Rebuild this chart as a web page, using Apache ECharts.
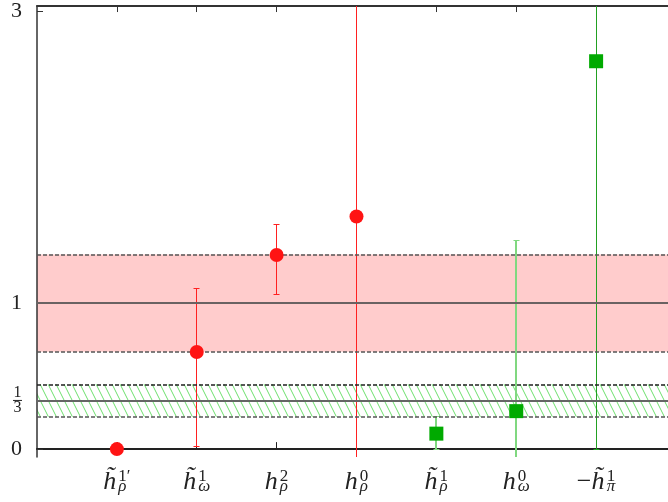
<!DOCTYPE html>
<html><head><meta charset="utf-8">
<script src="https://cdn.jsdelivr.net/npm/echarts@6/dist/echarts.min.js"></script>
<style>html,body{margin:0;padding:0;background:#fff}#c{width:668px;height:502px}</style>
</head><body><div id="c"></div>
<script>
// ---- data ----
const xPositions = [1, 2, 3, 4, 5, 6, 7];
const categories = [
  '{sp| }{p|1′}\n{h|h̃}\n{sp| }{b|ρ}',
  '{sp| }{p|1}\n{h|h̃}\n{sp| }{b|ω}',
  '{sp| }{p|2}\n{h|h}\n{sp| }{b|ρ}',
  '{sp| }{p|0}\n{h|h}\n{sp| }{b|ρ}',
  '{sp| }{p|1}\n{h|h̃}\n{sp| }{b|ρ}',
  '{sp| }{p|0}\n{h|h}\n{sp| }{b|ω}',
  '{sp2| }{p|1}\n{m|−}{h|h̃}\n{sp2| }{b|π}'
];
const redX = [1, 2, 3, 4];
const redValues = [0, 0.665, 1.329, 1.593];
const redLow = [null, 0.015, 1.061, -1];
const redHigh = [null, 1.10, 1.539, 5];
const greenX = [5, 6, 7];
const greenValues = [0.106, 0.26, 2.656];
const greenLow = [0.0, -1, 0.0];
const greenHigh = [0.22, 1.43, 5];
const yTickValues = [0, 1/3, 1, 3];
const yTickLabels = ['0', '{n|1}\n{bar| }\n{d|3}', '1', '3'];
const redBand = [2/3, 1, 4/3];
const greenBand = [2/9, 1/3, 4/9];

// ---- styles (separate) ----
const greenBarColors = ['#80d880', '#80d880', '#22a022'];
const greenBarWidths = [2, 2, 1];

const serif = 'Liberation Serif';

const pc = document.createElement('canvas');
pc.width = 8; pc.height = 16;
const pctx = pc.getContext('2d');
pctx.strokeStyle = '#6ee06e'; pctx.lineWidth = 1;
for (const dx of [-8, 0, 8]) { pctx.beginPath(); pctx.moveTo(dx, 0); pctx.lineTo(dx + 8, 16); pctx.stroke(); }

function snap(v, w) { return (w % 2 === 1) ? Math.round(v - 0.5) + 0.5 : Math.round(v); }

function errRender(colors, widths) {
  return function (params, api) {
    const i = api.value(3);
    const x = api.value(0), lo = api.value(1), hi = api.value(2);
    const a = api.coord([x, lo]), b = api.coord([x, hi]);
    const c = Array.isArray(colors) ? colors[i] : colors;
    const w = Array.isArray(widths) ? widths[i] : widths;
    const cap = 3;
    const px = snap(a[0], w), cx = snap(a[0], 1);
    const ya = snap(a[1], 1), yb = snap(b[1], 1);
    return { type: 'group', children: [
      { type: 'line', shape: { x1: px, y1: a[1], x2: px, y2: b[1] }, style: { stroke: c, lineWidth: w } },
      { type: 'line', shape: { x1: cx - cap, y1: ya, x2: cx + cap, y2: ya }, style: { stroke: c, lineWidth: 1 } },
      { type: 'line', shape: { x1: cx - cap, y1: yb, x2: cx + cap, y2: yb }, style: { stroke: c, lineWidth: 1 } }
    ]};
  };
}

const redErr = [], greenErr = [];
redX.forEach((x, i) => { if (redLow[i] !== null) redErr.push([x, redLow[i], redHigh[i], i]); });
greenX.forEach((x, i) => { if (greenLow[i] !== null) greenErr.push([x, greenLow[i], greenHigh[i], i]); });

const chart = echarts.init(document.getElementById('c'), null, { renderer: 'canvas' });
const xMin = 0, xMax = 7.9, yMin = -0.054, yMax = 3.034;

chart.setOption({
  animation: false,
  backgroundColor: '#fff',
  grid: { left: 37, right: 0, top: 2, bottom: 45 },
  xAxis: [{
    type: 'value', min: xMin, max: xMax, position: 'bottom', z: 3,
    axisLine: { lineStyle: { color: '#222', width: 2 } },
    axisTick: { customValues: xPositions, inside: true, length: 7, lineStyle: { color: '#222', width: 1 } },
    splitLine: { show: false },
    axisLabel: {
      customValues: xPositions, margin: 17,
      formatter: v => categories[xPositions.indexOf(v)],
      color: '#222', fontFamily: serif,
      rich: {
        h: { fontFamily: serif, fontStyle: 'italic', fontSize: 26, lineHeight: 4, align: 'left', color: '#222' },
        m: { fontFamily: serif, fontSize: 26, lineHeight: 4, align: 'left', color: '#222' },
        sp: { width: 15, lineHeight: 6, fontSize: 6, align: 'left' },
        sp2: { width: 30, lineHeight: 6, fontSize: 6, align: 'left' },
        p: { fontFamily: serif, fontSize: 17, lineHeight: 6, align: 'left', color: '#222' },
        b: { fontFamily: serif, fontStyle: 'italic', fontSize: 17, lineHeight: 5, align: 'left', color: '#222' }
      }
    }
  }, {
    type: 'value', min: xMin, max: xMax, position: 'top', z: 3,
    axisLine: { lineStyle: { color: '#333', width: 2 } },
    axisTick: { customValues: xPositions, inside: true, length: 6, lineStyle: { color: '#333' } },
    axisLabel: { show: false }, splitLine: { show: false }
  }],
  yAxis: {
    type: 'value', min: yMin, max: yMax, z: 3,
    axisLine: { show: true, lineStyle: { color: '#333', width: 1.5 } },
    axisTick: { customValues: yTickValues, inside: true, length: 6, lineStyle: { color: '#333' } },
    splitLine: { show: false },
    axisLabel: {
      customValues: yTickValues, margin: 15,
      formatter: v => { let k = 0; yTickValues.forEach((t, j) => { if (Math.abs(t - v) < 1e-6) k = j; }); return yTickLabels[k]; },
      fontFamily: serif, fontSize: 22, color: '#222',
      rich: {
        n: { fontFamily: serif, fontSize: 16, lineHeight: 12, align: 'center', color: '#222' },
        bar: { width: 9, height: 1, lineHeight: 3, fontSize: 1, backgroundColor: '#222', align: 'center' },
        d: { fontFamily: serif, fontSize: 16, lineHeight: 12, align: 'center', color: '#222' }
      }
    }
  },
  series: [
    {
      type: 'line', data: [], z: 1, silent: true,
      markArea: { silent: true, data: [
        [{ yAxis: redBand[0], itemStyle: { color: '#ffcccc' } }, { yAxis: redBand[2] }],
        [{ yAxis: greenBand[0], itemStyle: { color: { image: pc, repeat: 'repeat' } } }, { yAxis: greenBand[2] }]
      ] },
      markLine: { silent: true, symbol: 'none', label: { show: false }, data: [
        { yAxis: redBand[0], lineStyle: { color: '#555', width: 1.5, type: [4, 2] } },
        { yAxis: redBand[1], lineStyle: { color: '#6a6262', width: 2, type: 'solid' } },
        { yAxis: redBand[2], lineStyle: { color: '#555', width: 1.5, type: [4, 2] } },
        { yAxis: greenBand[0], lineStyle: { color: '#555', width: 1.5, type: [4, 2] } },
        { yAxis: greenBand[1], lineStyle: { color: '#666', width: 1.8, type: 'solid' } },
        { yAxis: greenBand[2], lineStyle: { color: '#222', width: 1.5, type: [4, 2] } }
      ] }
    },
    { type: 'custom', clip: true, z: 4, renderItem: errRender('#ff2020', 1), data: redErr, encode: { x: 0, y: [1, 2] } },
    { type: 'custom', clip: true, z: 4, renderItem: errRender(greenBarColors, greenBarWidths), data: greenErr, encode: { x: 0, y: [1, 2] } },
    { type: 'scatter', z: 5, symbol: 'circle', symbolSize: 14, itemStyle: { color: '#ff1414', opacity: 1 },
      data: redX.map((x, i) => [x, redValues[i]]) },
    { type: 'scatter', z: 5, symbol: 'rect', symbolSize: 14, itemStyle: { color: '#00aa00', opacity: 1 },
      data: greenX.map((x, i) => [x, greenValues[i]]) }
  ]
});
</script></body></html>
